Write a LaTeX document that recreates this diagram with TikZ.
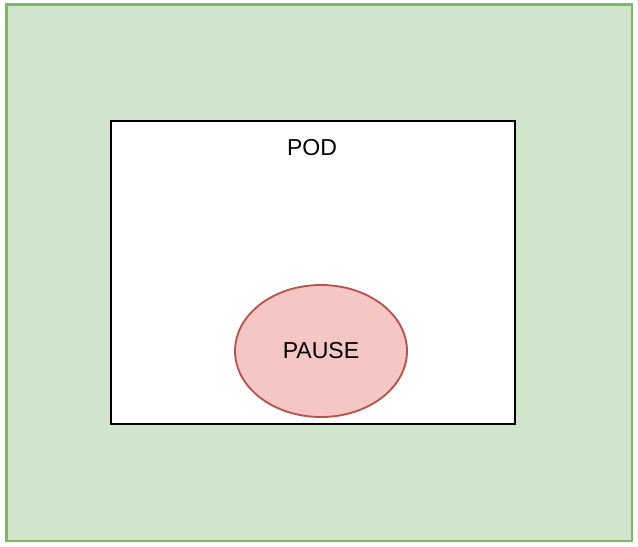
\documentclass[tikz,border=0pt]{standalone}
\usepackage{fontspec}
\setmainfont{Liberation Sans}
\usetikzlibrary{positioning, shapes.geometric}

\definecolor{hostfill}{HTML}{D0E5CC}
\definecolor{hostline}{HTML}{82B366}
\definecolor{pausefill}{HTML}{F5C7C4}
\definecolor{pauseline}{HTML}{B85450}

\begin{document}
\begin{tikzpicture}[
        x=0.75pt, y=-0.75pt,
        every node/.style={font=\fontsize{17.3}{21}\selectfont},
        host/.style={draw=hostline, fill=hostfill, line width=1.6pt},
        podbox/.style={draw=black, fill=white, line width=1.7pt},
        pause/.style={ellipse, draw=pauseline, fill=pausefill, line width=1.4pt,
            minimum width=172*0.75pt, minimum height=132*0.75pt, inner sep=0pt}
    ]

    \useasboundingbox (0,0) rectangle (638,546);

    \draw[host] (6.5,4.5) rectangle (632,541);
    \draw[podbox] (111,121) rectangle (515,424);

    \node (POD) at (312,148) {POD};
    \node[pause] (PAUSE) at (321,351) {PAUSE};
    \end{tikzpicture}
\end{document}
